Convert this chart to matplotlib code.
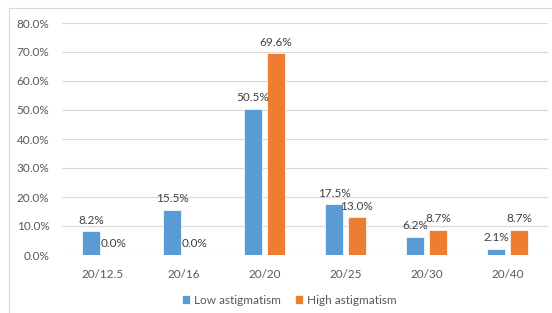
import numpy as np
import matplotlib.pyplot as plt
from matplotlib.patches import Rectangle
from matplotlib.ticker import FuncFormatter

# ----- дані
categories = ['20/12.5', '20/16', '20/20', '20/25', '20/30', '20/40']
low_astig = [8.2, 15.5, 50.5, 17.5, 6.2, 2.1]
high_astig = [0.0, 0.0, 69.6, 13.0, 8.7, 8.7]
series_names = ['Low astigmatism', 'High astigmatism']

plt.rcParams['font.family'] = ['Lato', 'DejaVu Sans']
txt = '#595959'
blue = '#5B9BD5'
orange = '#ED7D31'

fig = plt.figure(figsize=(5.52, 3.13), dpi=100)
# рамка області діаграми
fig.patches.append(Rectangle((9 / 552, -0.05), 1.0, 1 - 8 / 313 + 0.05,
                             transform=fig.transFigure, fill=False,
                             edgecolor='#D9D9D9', linewidth=0.8))

ax = fig.add_axes([62 / 552, 58 / 313, 486 / 552, 232 / 313])
x = np.arange(len(categories))
w = 0.225
off = 0.14
b1 = ax.bar(x - off, low_astig, w, color=blue, edgecolor='white', linewidth=0.5,
            label=series_names[0], zorder=3)
b2 = ax.bar(x + off, high_astig, w, color=orange, edgecolor='white', linewidth=0.5,
            label=series_names[1], zorder=3)

# ----- підписи значень над стовпчиками
for bars in (b1, b2):
    for r in bars:
        h = r.get_height()
        ax.annotate('%.1f%%' % h, (r.get_x() + r.get_width() / 2, h),
                    xytext=(0, 4), textcoords='offset points', ha='center',
                    va='bottom', fontsize=8.5, color='#404040')

ax.set_xlim(-0.5, len(categories) - 0.5)
ax.set_ylim(0, 80)
ax.set_yticks(np.arange(0, 81, 10))
ax.yaxis.set_major_formatter(FuncFormatter(lambda v, p: '%.1f%%' % v))
ax.set_xticks(x)
ax.set_xticklabels(categories)
ax.grid(axis='y', color='#D9D9D9', linewidth=0.8, zorder=0)
for s in ax.spines.values():
    s.set_visible(False)
ax.tick_params(axis='both', length=0, colors=txt, labelsize=8.5)
ax.tick_params(axis='y', pad=9)
ax.tick_params(axis='x', pad=10)
ax.axhline(0, color='#D9D9D9', linewidth=0.8, zorder=2)

fig.legend(loc='center', bbox_to_anchor=(289 / 552, 13 / 313), ncol=2, frameon=False,
           fontsize=8.5, labelcolor=txt, handlelength=0.7, handleheight=0.7,
           handletextpad=0.3, columnspacing=1.2)

fig.savefig('out.png', dpi=100)
